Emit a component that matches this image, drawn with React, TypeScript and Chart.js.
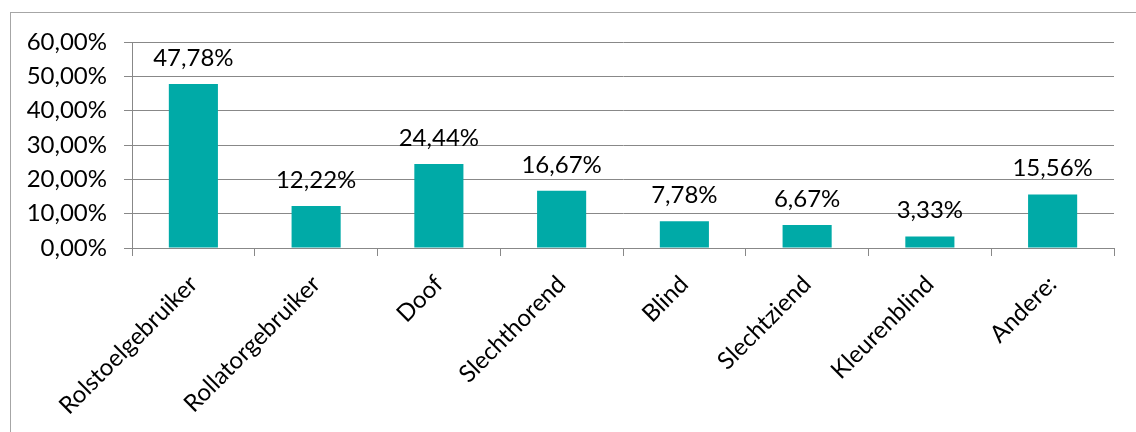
import React, { useEffect, useRef } from "react";
import { Chart, registerables } from "chart.js";

Chart.register(...registerables);

const categories = [
  "Rolstoelgebruiker",
  "Rollatorgebruiker",
  "Doof",
  "Slechthorend",
  "Blind",
  "Slechtziend",
  "Kleurenblind",
  "Andere:",
];
const values = [47.78, 12.22, 24.44, 16.67, 7.78, 6.67, 3.33, 15.56];
const yMin = 0;
const yMax = 60;
const yStep = 10;

const FONT = "Lato, 'Open Sans', sans-serif";
const FONT_SIZE = 24;
const GRID = "#888888";
const BAR = "#00AAA7";

const fmt = (v: number) => v.toFixed(2).replace(".", ",") + "%";

const labelPlugin = {
  id: "barLabels",
  afterDatasetsDraw(chart: any) {
    const ctx = chart.ctx;
    const meta = chart.getDatasetMeta(0);
    ctx.save();
    ctx.font = `${FONT_SIZE}px ${FONT}`;
    ctx.fillStyle = "#000000";
    ctx.textAlign = "center";
    ctx.textBaseline = "middle";
    meta.data.forEach((bar: any, i: number) => {
      ctx.fillText(fmt(values[i]), bar.x, bar.y - 26);
    });
    ctx.restore();
  },
};

export default function App() {
  const ref = useRef<HTMLCanvasElement | null>(null);

  useEffect(() => {
    if (!ref.current) return;
    const chart = new Chart(ref.current, {
      type: "bar",
      data: {
        labels: categories,
        datasets: [
          {
            data: values,
            backgroundColor: BAR,
            borderWidth: 0,
            barPercentage: 0.4,
            categoryPercentage: 1,
          },
        ],
      },
      options: {
        animation: false,
        responsive: false,
        maintainAspectRatio: false,
        layout: { padding: { top: 42, right: 22, left: 0, bottom: 0 } },
        plugins: { legend: { display: false }, tooltip: { enabled: false } },
        scales: {
          x: {
            offset: true,
            grid: {
              display: true,
              drawOnChartArea: false,
              drawTicks: true,
              tickLength: 8,
              color: GRID,
              offset: true,
            },
            border: { display: true, color: GRID, width: 1 },
            ticks: {
              font: { family: FONT, size: FONT_SIZE },
              color: "#000000",
              maxRotation: 45,
              minRotation: 45,
              padding: 14,
              autoSkip: false,
            },
            afterFit: (scale: any) => {
              scale.height = 432 - 248;
            },
          },
          y: {
            min: yMin,
            max: yMax,
            grid: {
              color: GRID,
              tickLength: 8,
              lineWidth: 1,
            },
            border: { display: true, color: GRID, width: 1 },
            ticks: {
              stepSize: yStep,
              font: { family: FONT, size: FONT_SIZE },
              color: "#000000",
              padding: 17,
              callback: (v: any) => fmt(Number(v)),
            },
            afterFit: (scale: any) => {
              scale.width = 132;
            },
          },
        },
      },
      plugins: [labelPlugin],
    });
    return () => chart.destroy();
  }, []);

  return (
    <div
      style={{
        position: "absolute",
        left: 0,
        top: 0,
        width: 1136,
        height: 432,
        overflow: "hidden",
        background: "#ffffff",
      }}
    >
      <div
        style={{
          position: "absolute",
          left: 10,
          top: 12,
          width: 1200,
          height: 500,
          border: "1px solid #a6a6a6",
        }}
      />
      <canvas
        ref={ref}
        width={1136}
        height={432}
        style={{ position: "absolute", left: 0, top: 0, width: 1136, height: 432 }}
      />
    </div>
  );
}
